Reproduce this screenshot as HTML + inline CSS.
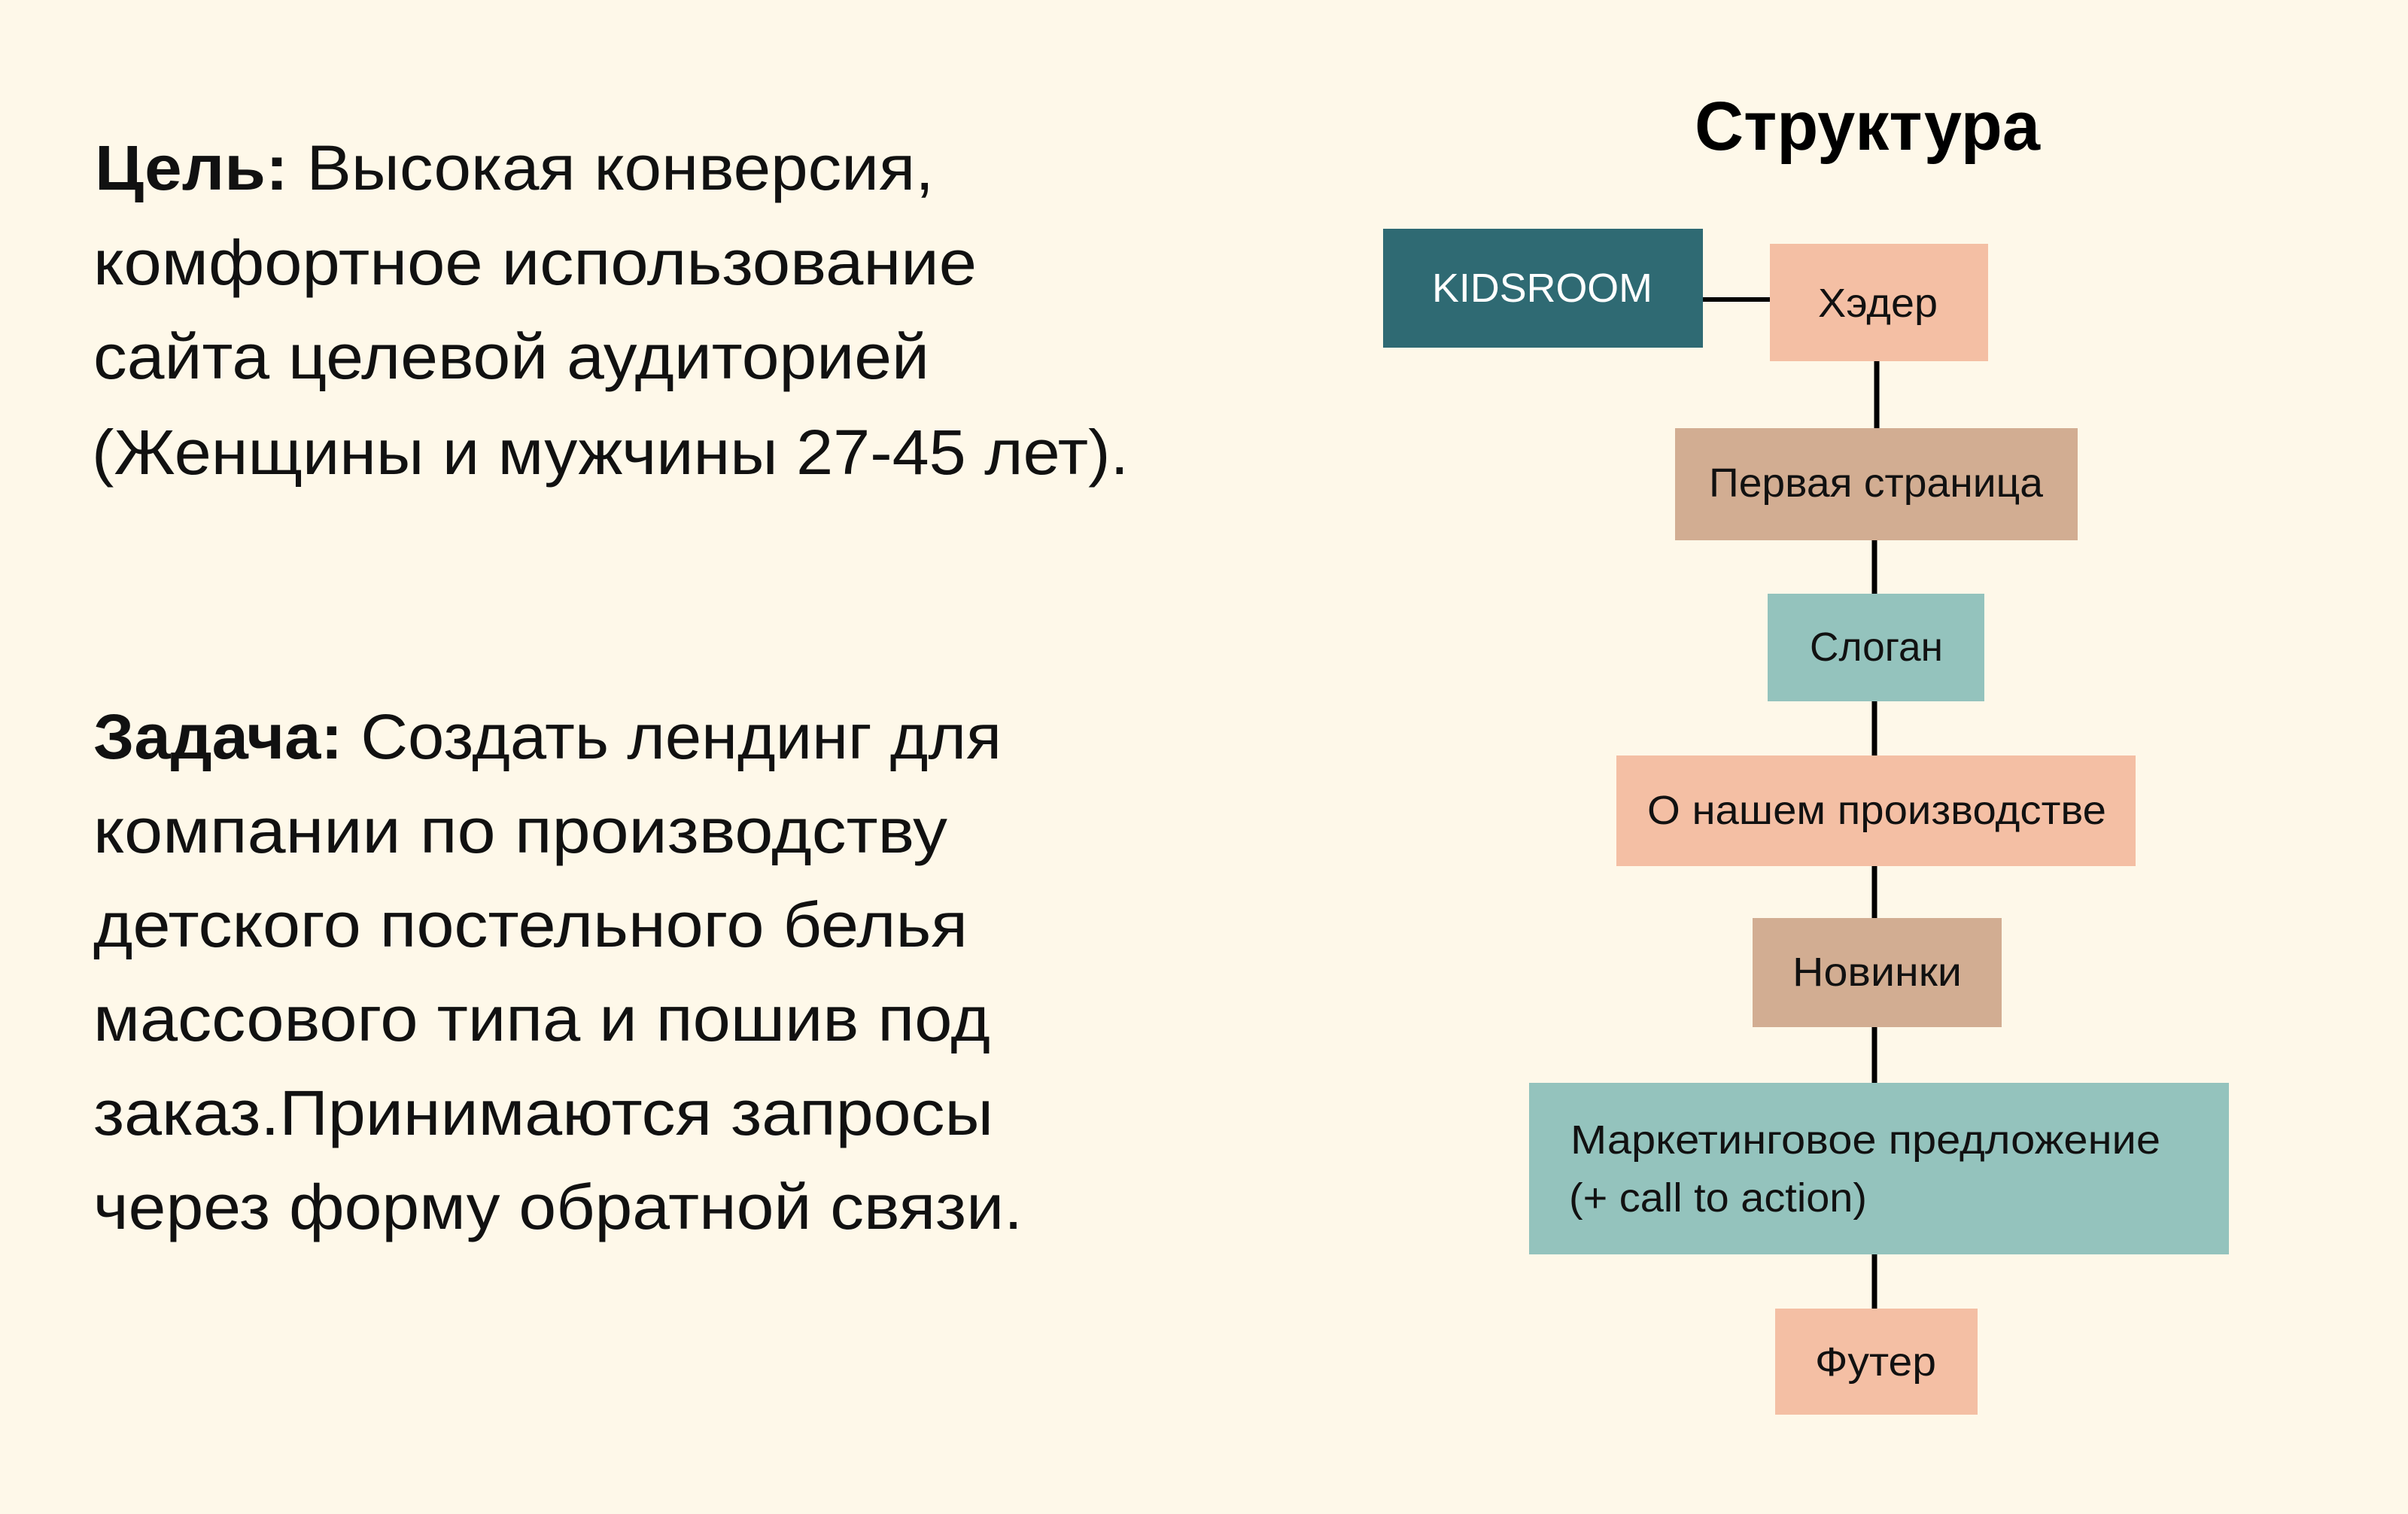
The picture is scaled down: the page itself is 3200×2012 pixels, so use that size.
<!DOCTYPE html>
<html><head><meta charset="utf-8"><style>
html,body{margin:0;padding:0;background:#fef8e9;}
svg{display:block}
text{font-family:"Liberation Sans","DejaVu Sans",sans-serif;}
</style></head><body>
<svg width="3200" height="2012" viewBox="0 0 3200 2012" xmlns="http://www.w3.org/2000/svg">
<rect width="3200" height="2012" fill="#fef8e9"/>
<g font-size="84" fill="#111">
<text x="126" y="252" textLength="1115" lengthAdjust="spacingAndGlyphs"><tspan font-weight="bold">Цель:</tspan> Высокая конверсия,</text>
<text x="124" y="378" textLength="1174" lengthAdjust="spacingAndGlyphs">комфортное использование</text>
<text x="124" y="503" textLength="1111" lengthAdjust="spacingAndGlyphs">сайта целевой аудиторией</text>
<text x="122" y="630" textLength="1378" lengthAdjust="spacingAndGlyphs">(Женщины и мужчины 27-45 лет).</text>
<text x="124" y="1008" textLength="1207" lengthAdjust="spacingAndGlyphs"><tspan font-weight="bold">Задача:</tspan> Создать лендинг для</text>
<text x="124" y="1133" textLength="1135" lengthAdjust="spacingAndGlyphs">компании по производству</text>
<text x="124" y="1258" textLength="1162" lengthAdjust="spacingAndGlyphs">детского постельного белья</text>
<text x="124" y="1383" textLength="1192" lengthAdjust="spacingAndGlyphs">массового типа и пошив под</text>
<text x="124" y="1508" textLength="1196" lengthAdjust="spacingAndGlyphs">заказ.Принимаются запросы</text>
<text x="124" y="1633" textLength="1235" lengthAdjust="spacingAndGlyphs">через форму обратной связи.</text>
</g>
<text x="2252" y="199" font-size="92" font-weight="bold" fill="#000" textLength="459" lengthAdjust="spacingAndGlyphs">Структура</text>
<g stroke="#000" stroke-width="7">
<line x1="2263" y1="398" x2="2352" y2="398" stroke-width="6"/>
<line x1="2494" y1="480" x2="2494" y2="569"/>
<line x1="2491" y1="718" x2="2491" y2="789"/>
<line x1="2491" y1="932" x2="2491" y2="1004"/>
<line x1="2491" y1="1151" x2="2491" y2="1220"/>
<line x1="2491" y1="1365" x2="2491" y2="1439"/>
<line x1="2491" y1="1667" x2="2491" y2="1739"/>
</g>
<rect x="1838" y="304" width="425" height="158" fill="#2f6a73"/>
<rect x="2352" y="324" width="290" height="156" fill="#f4bfa4"/>
<rect x="2226" y="569" width="535" height="149" fill="#d2ad92"/>
<rect x="2349" y="789" width="288" height="143" fill="#94c3bd"/>
<rect x="2148" y="1004" width="690" height="147" fill="#f4bfa4"/>
<rect x="2329" y="1220" width="331" height="145" fill="#d2ad92"/>
<rect x="2032" y="1439" width="930" height="228" fill="#94c3bd"/>
<rect x="2359" y="1739" width="269" height="141" fill="#f4bfa4"/>
<g font-size="54" fill="#111">
<text x="1903" y="401" fill="#fff" textLength="293" lengthAdjust="spacingAndGlyphs">KIDSROOM</text>
<text x="2416" y="421" textLength="159" lengthAdjust="spacingAndGlyphs">Хэдер</text>
<text x="2271" y="660" textLength="444" lengthAdjust="spacingAndGlyphs">Первая страница</text>
<text x="2405" y="878" textLength="177" lengthAdjust="spacingAndGlyphs">Слоган</text>
<text x="2189" y="1095" textLength="610" lengthAdjust="spacingAndGlyphs">О нашем производстве</text>
<text x="2382" y="1310" textLength="225" lengthAdjust="spacingAndGlyphs">Новинки</text>
<text x="2087" y="1533" textLength="784" lengthAdjust="spacingAndGlyphs">Маркетинговое предложение</text>
<text x="2085" y="1610" textLength="396" lengthAdjust="spacingAndGlyphs">(+ call to action)</text>
<text x="2412" y="1828" textLength="161" lengthAdjust="spacingAndGlyphs">Футер</text>
</g>
</svg>
</body></html>
